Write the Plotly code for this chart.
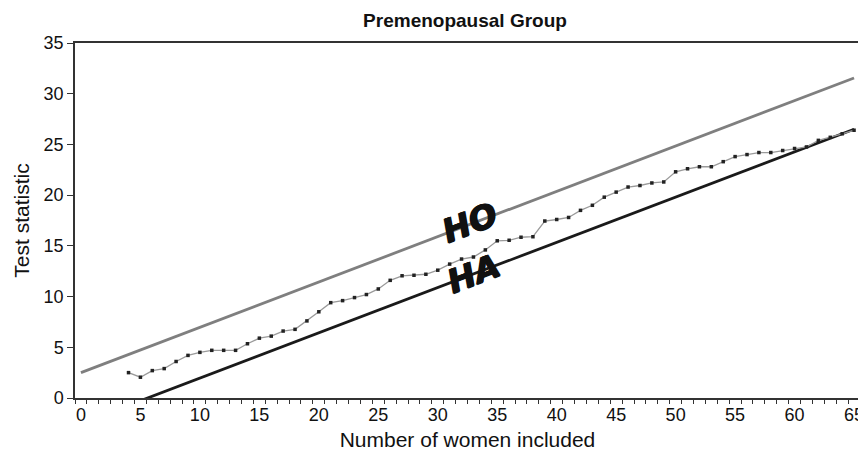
import plotly.graph_objects as go

# Observed test statistic per number of women included
women = list(range(4, 66))
test_stat = [2.5, 2.05, 2.7, 2.9, 3.6, 4.2, 4.5, 4.7, 4.7, 4.7,
             5.35, 5.9, 6.1, 6.6, 6.77, 7.6, 8.5, 9.4, 9.6, 9.9,
             10.2, 10.75, 11.6, 12.05, 12.1, 12.2, 12.6, 13.2, 13.7, 13.9,
             14.6, 15.5, 15.55, 15.85, 15.9, 17.45, 17.6, 17.8, 18.5, 19.0,
             19.8, 20.3, 20.8, 20.95, 21.2, 21.3, 22.3, 22.6, 22.8, 22.8,
             23.3, 23.8, 24.0, 24.2, 24.2, 24.4, 24.6, 24.75, 25.4, 25.7,
             26.05, 26.4]

# Boundary lines (endpoints)
ho_x = [0, 65]
ho_y = [2.5, 31.55]
ha_x = [0, 65]
ha_y = [-2.5, 26.5]

x_ticks = list(range(0, 66, 5))
y_ticks = list(range(0, 36, 5))

FONT = "Liberation Sans, Arial, sans-serif"
AX = "#333333"

# page body has an 8px margin, so the figure is sized to fit the window
W, H = 858, 448

fig = go.Figure()
fig.add_trace(go.Scatter(x=ho_x, y=ho_y, mode="lines",
                         line=dict(color="#7f7f7f", width=2.8), showlegend=False))
fig.add_trace(go.Scatter(x=ha_x, y=ha_y, mode="lines",
                         line=dict(color="#1a1a1a", width=2.8), showlegend=False))
fig.add_trace(go.Scatter(x=women, y=test_stat, mode="lines+markers",
                         line=dict(color="#9a9a9a", width=1.3),
                         marker=dict(symbol="square", size=3.5, color="#222222"),
                         showlegend=False))

label_font = dict(family="DejaVu Sans, sans-serif", size=33, color="#111111",
                  shadow="0.8px 0 0 #111111, -0.8px 0 0 #111111, 0 0.8px 0 #111111")
fig.add_annotation(x=32.7, y=17.3, text="<b><i>HO</i></b>", showarrow=False,
                   textangle=-21, font=label_font)
fig.add_annotation(x=33.0, y=12.3, text="<b><i>HA</i></b>", showarrow=False,
                   textangle=-21, font=label_font)

fig.update_layout(
    width=W, height=H,
    margin=dict(l=67, r=6, t=35, b=58, autoexpand=False),
    paper_bgcolor="white", plot_bgcolor="white",
    font=dict(family=FONT, size=18, color="#111111"),
    title=dict(text="<b>Premenopausal Group</b>",
               x=(465 - 75) / 785, xref="paper", xanchor="center",
               y=1 - 12 / H, yref="container", yanchor="middle",
               font=dict(family=FONT, size=19, color="#111111")),
    xaxis=dict(range=[-0.5, 65.5], tickmode="array", tickvals=x_ticks,
               ticks="", showgrid=False, zeroline=False, automargin=False,
               showline=True, linecolor=AX, linewidth=1.5, mirror=True,
               tickfont=dict(size=18),
               minor=dict(tick0=-0.5, dtick=1, ticks="outside", ticklen=4,
                          tickcolor=AX, tickwidth=1, showgrid=False),
               title=dict(text="Number of women included", font=dict(size=21),
                          standoff=8)),
    yaxis=dict(range=[0, 35], tickmode="array", tickvals=y_ticks,
               ticks="outside", ticklen=6, tickcolor=AX, tickwidth=1,
               showgrid=False, zeroline=False, automargin=False,
               showline=True, linecolor=AX, linewidth=1.5, mirror=True,
               tickfont=dict(size=18),
               title=dict(text="Test statistic", font=dict(size=21), standoff=8)),
)

fig.write_html("out.html")
